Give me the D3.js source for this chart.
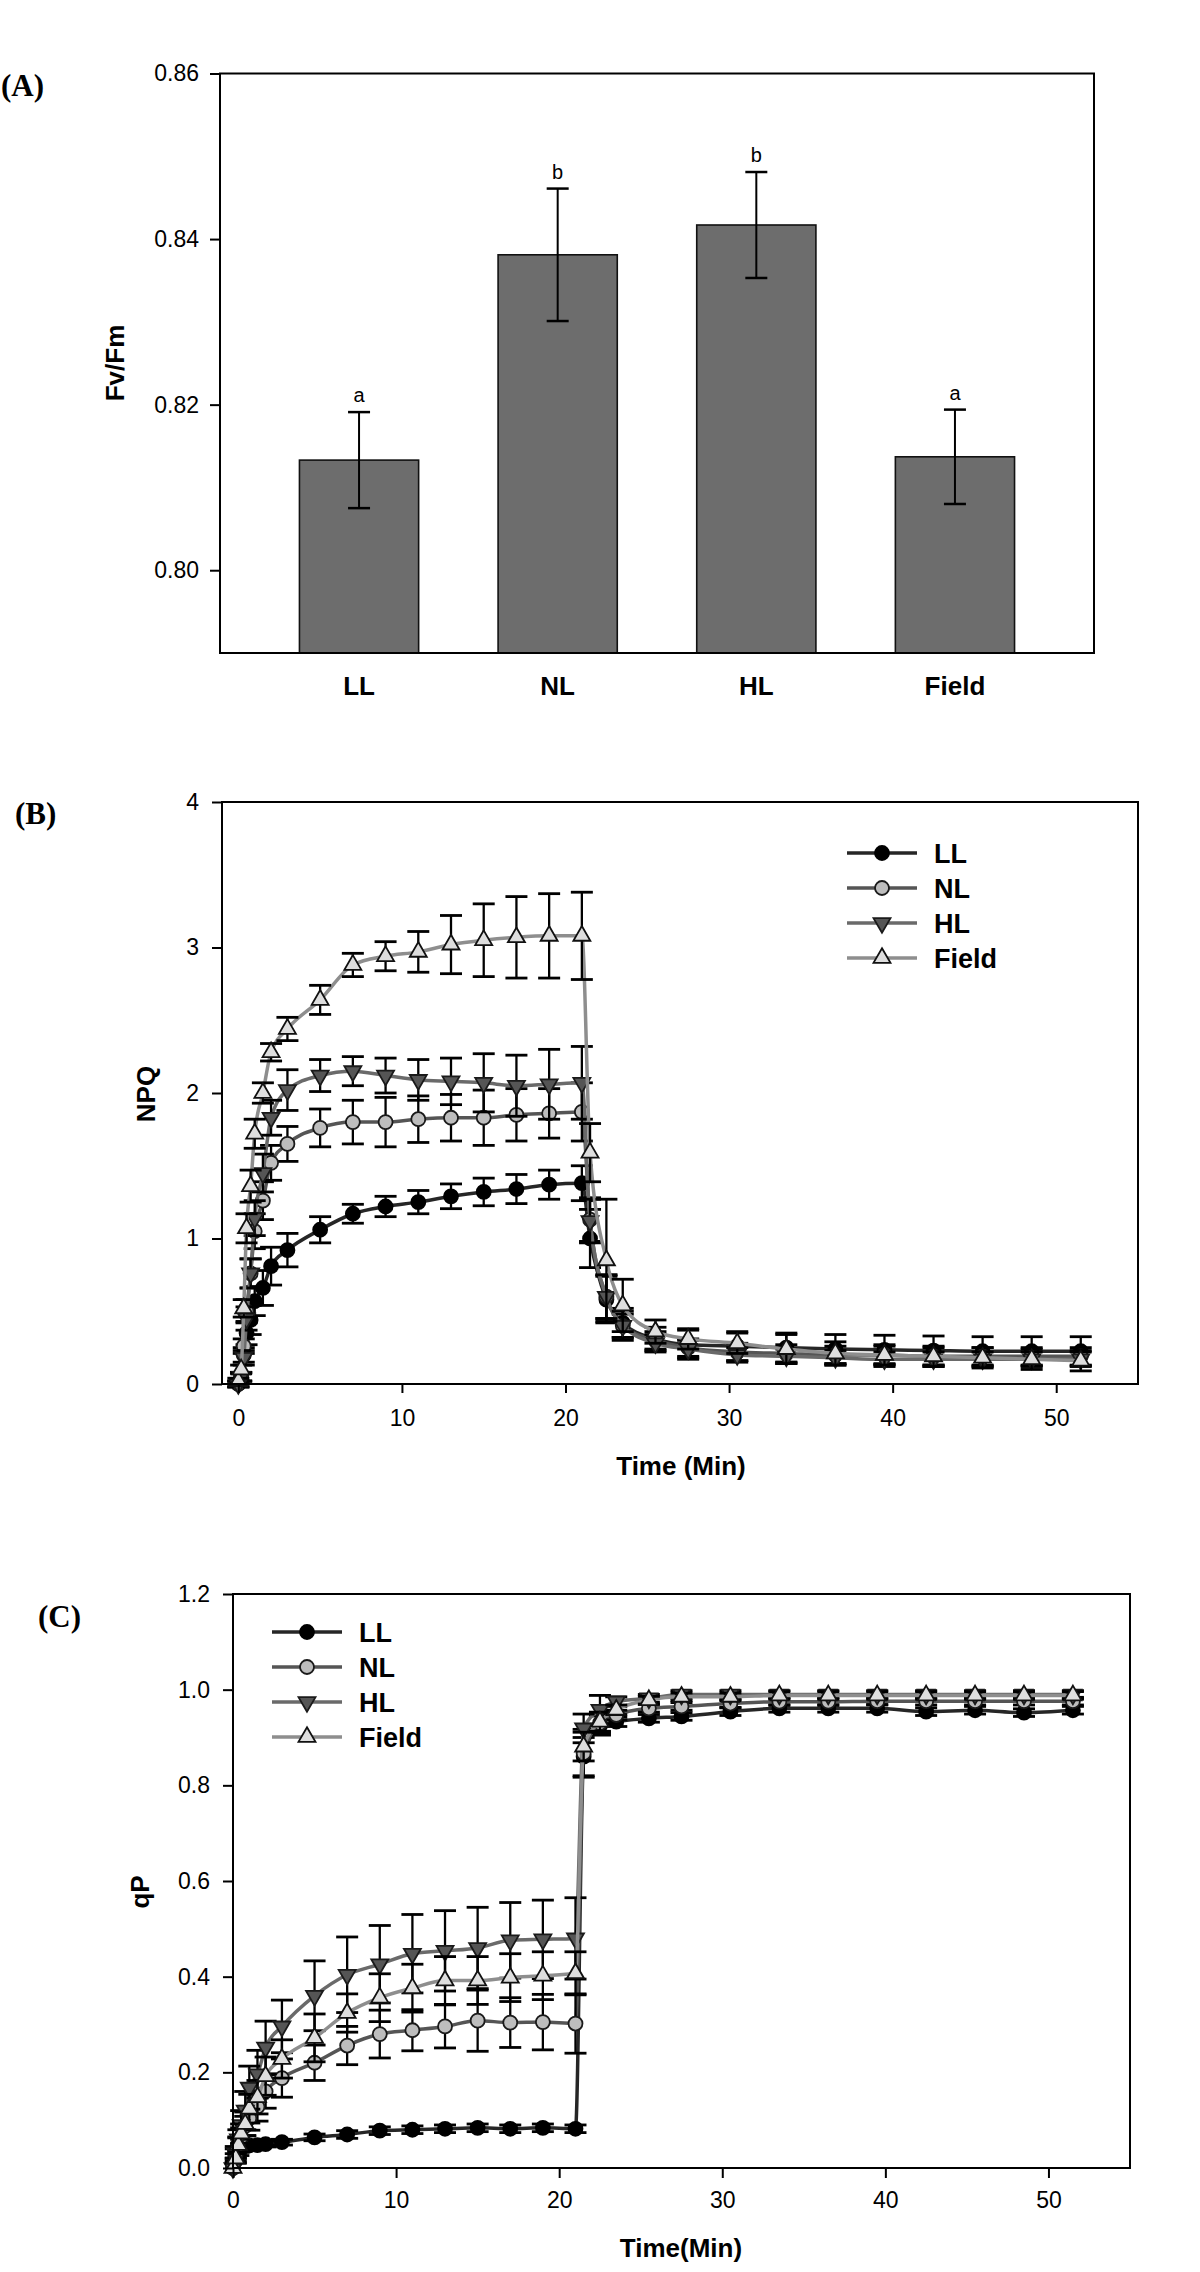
<!DOCTYPE html>
<html><head><meta charset="utf-8">
<script src="https://cdn.jsdelivr.net/npm/d3@7"></script>
<style>body{margin:0;background:#fff}</style></head>
<body>
<svg id="c" width="1200" height="2272"></svg>
<script>
// ---------- Panel A data ----------
const catA = ["LL", "NL", "HL", "Field"];
const fvfm = [0.8133, 0.8381, 0.8417, 0.8137];
const fvfmSE = [0.0058, 0.0080, 0.0064, 0.0057];
const sigLetters = ["a", "b", "b", "a"];
const yTicksA = [0.80, 0.82, 0.84, 0.86];

// ---------- Shared time points (min) ----------
const timeMin = [0, 0.17, 0.33, 0.5, 0.75, 1, 1.5, 2, 3, 5, 7, 9, 11, 13, 15, 17, 19, 21,
  21.5, 22.5, 23.5, 25.5, 27.5, 30.5, 33.5, 36.5, 39.5, 42.5, 45.5, 48.5, 51.5];
const seriesNames = ["LL", "NL", "HL", "Field"];

// ---------- Panel B (NPQ) ----------
const npqLL = [0, 0.05, 0.2, 0.35, 0.44, 0.57, 0.66, 0.81, 0.92, 1.06, 1.17, 1.22, 1.25, 1.29, 1.32, 1.34, 1.37, 1.38,
  1.00, 0.58, 0.42, 0.31, 0.27, 0.26, 0.25, 0.24, 0.235, 0.23, 0.225, 0.225, 0.225];
const npqLLse = [0.02, 0.03, 0.05, 0.08, 0.1, 0.1, 0.12, 0.13, 0.115, 0.09, 0.065, 0.07, 0.08, 0.085, 0.095, 0.1, 0.1, 0.12,
  0.2, 0.16, 0.1, 0.08, 0.1, 0.1, 0.1, 0.1, 0.1, 0.1, 0.1, 0.1, 0.1];
const npqNL = [0, 0.05, 0.26, 0.5, 0.76, 1.05, 1.26, 1.52, 1.65, 1.76, 1.80, 1.80, 1.82, 1.83, 1.83, 1.85, 1.86, 1.87,
  1.13, 0.6, 0.4, 0.3, 0.25, 0.22, 0.21, 0.2, 0.2, 0.19, 0.19, 0.19, 0.19];
const npqNLse = [0.02, 0.03, 0.05, 0.08, 0.1, 0.12, 0.13, 0.12, 0.12, 0.13, 0.15, 0.17, 0.16, 0.16, 0.19, 0.18, 0.17, 0.2,
  0.15, 0.15, 0.08, 0.06, 0.06, 0.06, 0.06, 0.06, 0.06, 0.06, 0.06, 0.06, 0.06];
const npqHL = [0, 0.05, 0.18, 0.45, 0.76, 1.14, 1.45, 1.83, 2.02, 2.12, 2.15, 2.12, 2.09, 2.08, 2.07, 2.05, 2.06, 2.07,
  1.12, 0.6, 0.4, 0.28, 0.24, 0.2, 0.19, 0.18, 0.17, 0.17, 0.17, 0.17, 0.17];
const npqHLse = [0.02, 0.03, 0.05, 0.08, 0.1, 0.12, 0.13, 0.12, 0.14, 0.11, 0.1, 0.12, 0.14, 0.16, 0.2, 0.21, 0.24, 0.25,
  0.15, 0.15, 0.1, 0.06, 0.06, 0.05, 0.05, 0.05, 0.05, 0.05, 0.05, 0.05, 0.05];
const npqField = [0.02, 0.1, 0.52, 1.07, 1.36, 1.72, 2.0, 2.28, 2.44, 2.64, 2.88, 2.94, 2.97, 3.02, 3.05, 3.07, 3.08, 3.08,
  1.59, 0.85, 0.54, 0.36, 0.31, 0.28, 0.24, 0.21, 0.2, 0.19, 0.18, 0.17, 0.16];
const npqFieldse = [0.02, 0.03, 0.06, 0.1, 0.11, 0.1, 0.07, 0.06, 0.08, 0.1, 0.08, 0.1, 0.14, 0.2, 0.25, 0.28, 0.29, 0.3,
  0.2, 0.42, 0.18, 0.08, 0.07, 0.07, 0.1, 0.08, 0.07, 0.07, 0.07, 0.07, 0.07];
const yTicksB = [0, 1, 2, 3, 4];
const xTicks = [0, 10, 20, 30, 40, 50];

// ---------- Panel C (qP) ----------
const qpLL = [0, 0.016, 0.032, 0.044, 0.046, 0.047, 0.048, 0.05, 0.054, 0.064, 0.07, 0.078, 0.08, 0.082, 0.084, 0.082, 0.084, 0.082,
  0.86, 0.925, 0.933, 0.94, 0.944, 0.954, 0.961, 0.961, 0.961, 0.954, 0.957, 0.952, 0.957];
const qpLLse = [0, 0.005, 0.006, 0.006, 0.006, 0.006, 0.006, 0.006, 0.006, 0.007, 0.008, 0.008, 0.008, 0.008, 0.008, 0.008, 0.008, 0.008,
  0.04, 0.02, 0.01, 0.008, 0.008, 0.008, 0.008, 0.008, 0.008, 0.008, 0.008, 0.008, 0.008];
const qpNL = [0, 0.03, 0.05, 0.064, 0.088, 0.104, 0.128, 0.16, 0.188, 0.22, 0.256, 0.28, 0.288, 0.296, 0.308, 0.304, 0.305, 0.302,
  0.867, 0.93, 0.947, 0.961, 0.965, 0.971, 0.975, 0.975, 0.976, 0.976, 0.976, 0.976, 0.976];
const qpNLse = [0, 0.01, 0.015, 0.02, 0.02, 0.025, 0.03, 0.035, 0.04, 0.037, 0.04, 0.05, 0.043, 0.045, 0.064, 0.052, 0.058, 0.062,
  0.05, 0.02, 0.01, 0.008, 0.008, 0.008, 0.008, 0.008, 0.008, 0.008, 0.008, 0.008, 0.008];
const qpHL = [0, 0.03, 0.06, 0.09, 0.12, 0.168, 0.196, 0.252, 0.296, 0.36, 0.404, 0.426, 0.448, 0.454, 0.46, 0.476, 0.478, 0.48,
  0.919, 0.958, 0.975, 0.982, 0.99, 0.99, 0.99, 0.99, 0.99, 0.99, 0.99, 0.99, 0.99];
const qpHLse = [0, 0.015, 0.02, 0.03, 0.04, 0.045, 0.05, 0.055, 0.055, 0.073, 0.079, 0.081, 0.082, 0.084, 0.085, 0.079, 0.082, 0.085,
  0.03, 0.03, 0.01, 0.008, 0.008, 0.008, 0.008, 0.008, 0.008, 0.008, 0.008, 0.008, 0.008];
const qpField = [0, 0.02, 0.048, 0.072, 0.092, 0.124, 0.148, 0.192, 0.228, 0.272, 0.324, 0.356, 0.376, 0.392, 0.392, 0.398, 0.402, 0.407,
  0.881, 0.933, 0.958, 0.978, 0.985, 0.985, 0.988, 0.988, 0.988, 0.988, 0.988, 0.988, 0.988];
const qpFieldse = [0, 0.01, 0.015, 0.02, 0.025, 0.03, 0.035, 0.04, 0.04, 0.05, 0.04, 0.05, 0.05, 0.05, 0.05, 0.05, 0.05, 0.045,
  0.03, 0.02, 0.01, 0.008, 0.008, 0.008, 0.008, 0.008, 0.008, 0.008, 0.008, 0.008, 0.008];
const yTicksC = [0, 0.2, 0.4, 0.6, 0.8, 1.0, 1.2];

// ---------- Drawing ----------
const FONT = "'Liberation Sans', Arial, Helvetica, sans-serif";
const SERIF = "'Liberation Serif', 'Times New Roman', serif";
const svg = d3.select("#c");
svg.append("rect").attr("width", 1200).attr("height", 2272).attr("fill", "#fff");

const styles = {
  LL:    {line: "#262626", fill: "#000000", stroke: "#000", shape: "circle"},
  NL:    {line: "#555555", fill: "#bdbdbd", stroke: "#1a1a1a", shape: "circle"},
  HL:    {line: "#6a6a6a", fill: "#555555", stroke: "#1a1a1a", shape: "down"},
  Field: {line: "#8e8e8e", fill: "#dedede", stroke: "#111", shape: "up"}
};

function styleAxis(g, fs) {
  g.select(".domain").remove();
  g.selectAll(".tick line").attr("stroke", "#000").attr("stroke-width", 2);
  g.selectAll(".tick text").attr("font-family", FONT).attr("font-size", fs).attr("fill", "#000");
}

function drawMarker(g, shape, x, y, st) {
  let sym, rot = 0, size;
  if (shape === "circle") { sym = d3.symbolCircle; size = Math.PI * 49; }
  else { sym = d3.symbolTriangle; size = 125; if (shape === "down") rot = 180; }
  g.append("path").attr("d", d3.symbol().type(sym).size(size)())
    .attr("transform", `translate(${x},${y}) rotate(${rot})`)
    .attr("fill", st.fill).attr("stroke", st.stroke).attr("stroke-width", 1.8);
}

function errBar(g, x, y1, y2, half, sw) {
  g.append("line").attr("x1", x).attr("x2", x).attr("y1", y1).attr("y2", y2).attr("stroke", "#000").attr("stroke-width", sw);
  [y1, y2].forEach(yy => g.append("line").attr("x1", x - half).attr("x2", x + half).attr("y1", yy).attr("y2", yy)
    .attr("stroke", "#000").attr("stroke-width", sw + 0.5));
}

// Panel A
(function () {
  const L = 220, R = 1094, T = 73.5, B = 653;
  const g = svg.append("g");
  const x = d3.scaleBand().domain(catA).range([L, R]).paddingInner(0.4).paddingOuter(0.4);
  const y = d3.scaleLinear().domain([0.79, 0.86]).range([B, T]);
  catA.forEach((c, i) => {
    g.append("rect").attr("x", x(c)).attr("width", x.bandwidth()).attr("y", y(fvfm[i]))
      .attr("height", B - y(fvfm[i])).attr("fill", "#6d6d6d").attr("stroke", "#111").attr("stroke-width", 1.6);
  });
  catA.forEach((c, i) => {
    const cx = x(c) + x.bandwidth() / 2;
    errBar(g, cx, y(fvfm[i] + fvfmSE[i]), y(fvfm[i] - fvfmSE[i]), 11, 2);
    g.append("text").attr("x", cx).attr("y", y(fvfm[i] + fvfmSE[i]) - 10).attr("text-anchor", "middle")
      .attr("font-family", FONT).attr("font-size", 20).text(sigLetters[i]);
    g.append("text").attr("x", cx).attr("y", 695).attr("text-anchor", "middle")
      .attr("font-family", FONT).attr("font-weight", "bold").attr("font-size", 26).text(c);
  });
  g.append("rect").attr("x", L).attr("y", T).attr("width", R - L).attr("height", B - T)
    .attr("fill", "none").attr("stroke", "#000").attr("stroke-width", 2);
  const ax = g.append("g").attr("transform", `translate(${L},0)`)
    .call(d3.axisLeft(y).tickValues(yTicksA).tickFormat(d3.format(".2f")).tickSize(10).tickPadding(11));
  styleAxis(ax, 23);
  g.append("text").attr("transform", "translate(124,363) rotate(-90)").attr("text-anchor", "middle")
    .attr("font-family", FONT).attr("font-weight", "bold").attr("font-size", 26).text("Fv/Fm");
  g.append("text").attr("x", 1).attr("y", 96).attr("font-family", SERIF).attr("font-weight", "bold")
    .attr("font-size", 31).text("(A)");
})();

function linePanel(cfg) {
  const g = svg.append("g");
  const x = d3.scaleLinear().domain(cfg.xDomain).range([cfg.L, cfg.R]);
  const y = d3.scaleLinear().domain(cfg.yDomain).range([cfg.B, cfg.T]);
  const line = d3.line().x(d => x(d[0])).y(d => y(d[1])).curve(d3.curveMonotoneX);
  seriesNames.forEach((name, si) => {
    const st = styles[name];
    const vals = cfg.values[si], se = cfg.errors[si];
    const pts = timeMin.map((t, i) => [t, vals[i]]);
    g.append("path").attr("d", line(pts)).attr("fill", "none").attr("stroke", st.line)
      .attr("stroke-width", 3.5).attr("stroke-linejoin", "round");
    timeMin.forEach((t, i) => {
      if (se[i] > 0) errBar(g, x(t), y(vals[i] + se[i]), y(vals[i] - se[i]), 11, 2.3);
    });
    timeMin.forEach((t, i) => drawMarker(g, st.shape, x(t), y(vals[i]), st));
  });
  g.append("rect").attr("x", cfg.L).attr("y", cfg.T).attr("width", cfg.R - cfg.L).attr("height", cfg.B - cfg.T)
    .attr("fill", "none").attr("stroke", "#000").attr("stroke-width", 2);
  const ay = g.append("g").attr("transform", `translate(${cfg.L},0)`)
    .call(d3.axisLeft(y).tickValues(cfg.yTicks).tickFormat(cfg.yFormat).tickSize(10).tickPadding(13));
  styleAxis(ay, 23);
  const axx = g.append("g").attr("transform", `translate(0,${cfg.B})`)
    .call(d3.axisBottom(x).tickValues(xTicks).tickFormat(d3.format("d")).tickSize(cfg.xTickSize).tickPadding(cfg.xPad));
  styleAxis(axx, 23);
  g.append("text").attr("x", 681).attr("y", cfg.xTitleY).attr("text-anchor", "middle")
    .attr("font-family", FONT).attr("font-weight", "bold").attr("font-size", 26).text(cfg.xTitle);
  g.append("text").attr("transform", `translate(${cfg.yTitleX},${cfg.yTitleY}) rotate(-90)`).attr("text-anchor", "middle")
    .attr("font-family", FONT).attr("font-weight", "bold").attr("font-size", 26).text(cfg.yTitle);
  g.append("text").attr("x", cfg.labX).attr("y", cfg.labY).attr("font-family", SERIF).attr("font-weight", "bold")
    .attr("font-size", 31).text(cfg.label);
  // legend
  seriesNames.forEach((name, i) => {
    const st = styles[name];
    const ly = cfg.legY + i * 35;
    g.append("line").attr("x1", cfg.legX).attr("x2", cfg.legX + 70).attr("y1", ly).attr("y2", ly)
      .attr("stroke", st.line).attr("stroke-width", 3.5);
    drawMarker(g, st.shape, cfg.legX + 35, ly, st);
    g.append("text").attr("x", cfg.legX + 87).attr("y", ly + 10).attr("font-family", FONT)
      .attr("font-weight", "bold").attr("font-size", 27).text(name);
  });
}

linePanel({
  L: 222, R: 1138, T: 802, B: 1384, xDomain: [-1, 55], yDomain: [0, 4],
  yTicks: yTicksB, yFormat: d3.format("d"), xTickSize: 9, xPad: 17,
  values: [npqLL, npqNL, npqHL, npqField], errors: [npqLLse, npqNLse, npqHLse, npqFieldse],
  xTitle: "Time (Min)", xTitleY: 1475, yTitle: "NPQ", yTitleX: 155, yTitleY: 1094,
  label: "(B)", labX: 15, labY: 824, legX: 847, legY: 853
});

linePanel({
  L: 233, R: 1130, T: 1594, B: 2168, xDomain: [0, 55], yDomain: [0, 1.2],
  yTicks: yTicksC, yFormat: d3.format(".1f"), xTickSize: 10, xPad: 14,
  values: [qpLL, qpNL, qpHL, qpField], errors: [qpLLse, qpNLse, qpHLse, qpFieldse],
  xTitle: "Time(Min)", xTitleY: 2257, yTitle: "qP", yTitleX: 149, yTitleY: 1892,
  label: "(C)", labX: 38, labY: 1627, legX: 272, legY: 1632
});
</script>
</body></html>
